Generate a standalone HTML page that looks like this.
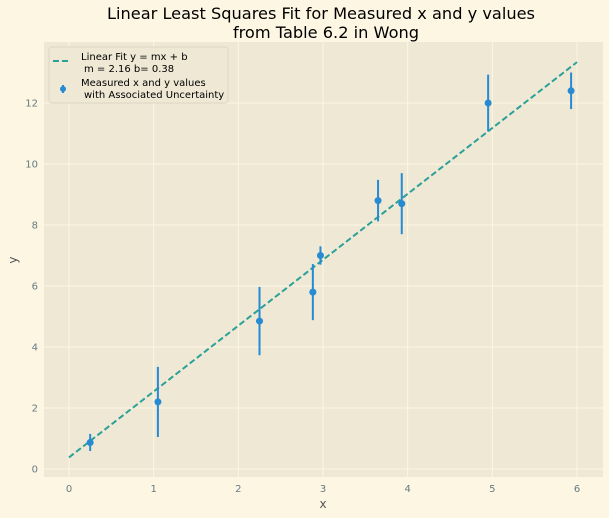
<!DOCTYPE html>
<html><head><meta charset="utf-8"><style>
body{margin:0;background:#fdf6e3;}
svg{display:block;font-family:"DejaVu Sans","Liberation Sans",sans-serif;}
</style></head><body>
<svg id="chart" width="609" height="518">
<rect x="0" y="0" width="609" height="518" fill="#fdf6e3"/>
<text x="321" y="19" font-size="16.2" text-anchor="middle" fill="#000">Linear Least Squares Fit for Measured x and y values</text>
<text x="326" y="38" font-size="16.2" text-anchor="middle" fill="#000">from Table 6.2 in Wong</text>
<rect x="44" y="42" width="559" height="435" fill="#eee8d5"/>
<g id="grid"></g><g id="ticks"></g><g id="marks"></g>
<text x="323" y="508" font-size="12" text-anchor="middle" fill="#555">x</text>
<text x="17" y="260" font-size="12" text-anchor="middle" fill="#555" transform="rotate(-90 17 260)">y</text>
<g>
<rect x="49" y="47" width="179" height="56" rx="3" fill="#eee8d5" stroke="#ddd6c2"/>
<line x1="53" y1="61" x2="71" y2="61" stroke="#2aa198" stroke-width="2" stroke-dasharray="6,3"/>
<text x="81" y="60" font-size="10" fill="#000">Linear Fit y = mx + b</text>
<text x="84" y="72" font-size="10" fill="#000">m = 2.16 b= 0.38</text>
<line x1="63" y1="85" x2="63" y2="93" stroke="#268bd2" stroke-width="2"/>
<circle cx="63" cy="89" r="3" fill="#268bd2"/>
<text x="81" y="86" font-size="10" fill="#000">Measured x and y values</text>
<text x="84" y="98" font-size="10" fill="#000">with Associated Uncertainty</text>
</g>
</svg>
<script>
const xValues=[0.25,1.05,2.25,2.88,2.97,3.65,3.93,4.95,5.93];
const yValues=[0.87,2.2,4.85,5.8,7.0,8.8,8.7,12.0,12.4];
const yErrors=[0.28,1.15,1.12,0.92,0.3,0.68,1.0,0.93,0.6];
const slope=2.16, intercept=0.38;
const xTicks=[0,1,2,3,4,5,6];
const yTicks=[0,2,4,6,8,10,12];
const NS="http://www.w3.org/2000/svg";
function sx(v){return 69+v*84.67;}
function sy(v){return 469-v*30.5;}
function mk(tag,attrs,parent,text){const e=document.createElementNS(NS,tag);for(const k in attrs)e.setAttribute(k,attrs[k]);if(text!==undefined)e.textContent=text;parent.appendChild(e);return e;}
const grid=document.getElementById('grid'),ticks=document.getElementById('ticks'),marks=document.getElementById('marks');
xTicks.forEach(t=>{
 const l=mk('line',{x1:sx(t),x2:sx(t),y1:42,y2:477,stroke:'#fdf6e3','stroke-width':1},grid);
 
 
 const tx=mk('text',{x:sx(t),y:492,'font-size':10,'text-anchor':'middle',fill:'#657b83'},ticks,String(t));
 
 
});
yTicks.forEach(t=>{
 const l=mk('line',{x1:44,x2:603,y1:sy(t),y2:sy(t),stroke:'#fdf6e3','stroke-width':1},grid);
 
 
 const tx=mk('text',{x:38,y:sy(t)+3.5,'font-size':10,'text-anchor':'end',fill:'#657b83'},ticks,String(t));
 
 
});
const fit=mk('line',{x1:sx(0),y1:sy(intercept),x2:sx(6),y2:sy(slope*6+intercept),stroke:'#2aa198','stroke-width':2,'stroke-dasharray':'6,3'},marks);


xValues.forEach((x,i)=>{
 const e=mk('line',{x1:sx(x),x2:sx(x),y1:sy(yValues[i]-yErrors[i]),y2:sy(yValues[i]+yErrors[i]),stroke:'#268bd2','stroke-width':2},marks);
 
 
 const c=mk('circle',{cx:sx(x),cy:sy(yValues[i]),r:3.5,fill:'#268bd2'},marks);
 
 
});
</script>
</body></html>
